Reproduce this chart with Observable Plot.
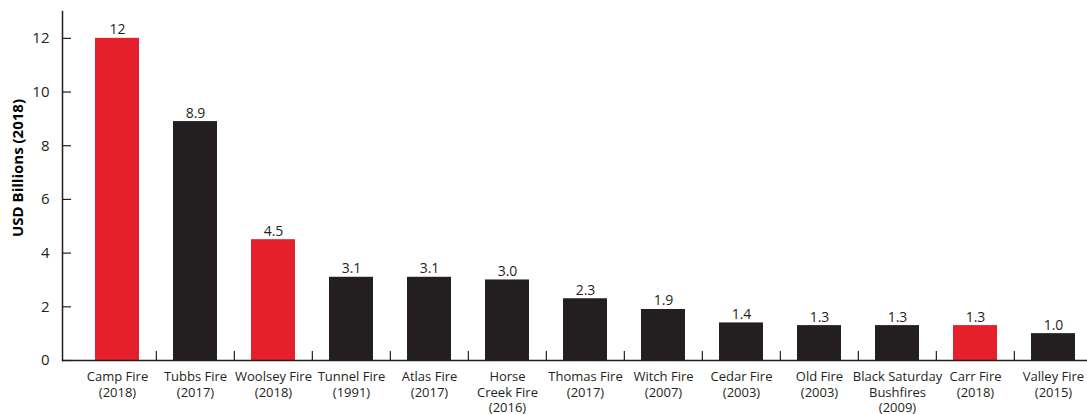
<!DOCTYPE html>
<html>
<head>
<meta charset="utf-8">
<script src="https://cdn.jsdelivr.net/npm/d3@7"></script>
<script src="https://cdn.jsdelivr.net/npm/@observablehq/plot@0.6"></script>
<style>
  html, body { margin: 0; padding: 0; background: #fff; overflow: hidden; }
</style>
</head>
<body>
<div id="chart"></div>
<script>
const names = ["Camp Fire", "Tubbs Fire", "Woolsey Fire", "Tunnel Fire", "Atlas Fire", "Horse\nCreek Fire", "Thomas Fire", "Witch Fire", "Cedar Fire", "Old Fire", "Black Saturday\nBushfires", "Carr Fire", "Valley Fire"];
const years = ["2018", "2017", "2018", "1991", "2017", "2016", "2017", "2007", "2003", "2003", "2009", "2018", "2015"];
const values = [12, 8.9, 4.5, 3.1, 3.1, 3.0, 2.3, 1.9, 1.4, 1.3, 1.3, 1.3, 1.0];
const valueLabels = ["12", "8.9", "4.5", "3.1", "3.1", "3.0", "2.3", "1.9", "1.4", "1.3", "1.3", "1.3", "1.0"];
const highlighted = ["Camp Fire", "Woolsey Fire", "Carr Fire"];
const yTicks = [0, 2, 4, 6, 8, 10, 12];
const yLabel = "USD Billions (2018)";

const RED = "#e51f2b";
const DARK = "#231f20";

const data = names.map((n, i) => ({
  key: n + "\n(" + years[i] + ")",
  name: n,
  value: values[i],
  label: valueLabels[i],
  red: highlighted.includes(n)
}));
const keys = data.map(d => d.key);

const W = 1087, H = 414;
const xRange = [76, 1094];
const step = (xRange[1] - xRange[0]) / keys.length;

const chart = Plot.plot({
  width: W,
  height: H,
  marginLeft: 62,
  marginRight: 0,
  marginTop: 11,
  marginBottom: 54,
  style: { fontFamily: "'Open Sans', sans-serif", color: DARK, overflow: "hidden" },
  x: { domain: keys, range: xRange, paddingInner: 0.44, paddingOuter: 0.22, label: null },
  y: { domain: [0, 13], label: null },
  marks: [
    Plot.barY(data, { x: "key", y: "value", fill: d => d.red ? RED : DARK }),
    Plot.text(data, { x: "key", y: "value", text: "label", lineAnchor: "bottom", dy: -4, fontSize: 14, fill: DARK }),
    Plot.axisX({ tickSize: 0, tickPadding: 9, fontSize: 13, lineHeight: 1.22, fill: DARK }),
    Plot.axisY({ ticks: yTicks, tickSize: 0, tickPadding: 13, fontSize: 15, label: null, fill: DARK }),
    Plot.axisY({ ticks: yTicks, tickSize: -9, tickFormat: () => "", label: null, stroke: DARK, strokeWidth: 1.2 }),
    Plot.ruleX(keys.slice(1), { x: d => d, y1: 0, y2: 0, dx: -step / 2, insetBottom: 9, stroke: DARK, strokeWidth: 1.2 }),
    Plot.frame({ anchor: "left", stroke: DARK, strokeWidth: 1.5 }),
    Plot.ruleY([0], { stroke: DARK, strokeWidth: 1.5 }),
    Plot.text([yLabel], { frameAnchor: "left", dx: -44, dy: -18, rotate: -90, textAnchor: "middle", fontWeight: "bold", fontSize: 15, fill: "#000" })
  ]
});
document.getElementById("chart").appendChild(chart);
</script>
</body>
</html>
